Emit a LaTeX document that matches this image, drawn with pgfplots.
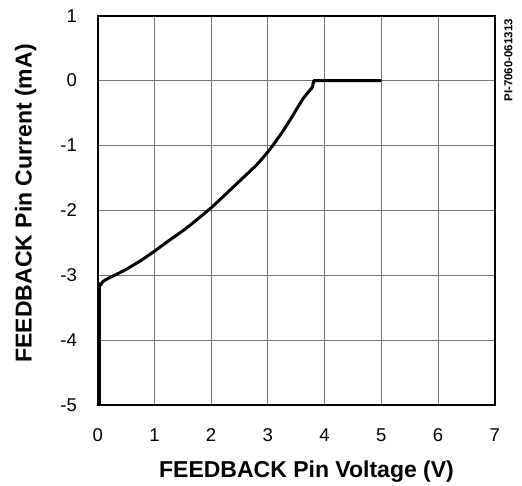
\documentclass[border=0pt]{standalone}
\usepackage{pgfplots}
\pgfplotsset{compat=1.18}
\usepackage{fontspec}
\setmainfont{Liberation Sans}
\begin{document}
\begin{tikzpicture}[x=1pt,y=1pt]
\useasboundingbox (-97.7,-80) rectangle (424.3,405);
\begin{axis}[
  at={(0,0)}, anchor=south west,
  scale only axis,
  width=397pt, height=389.3pt,
  xmin=0, xmax=7, ymin=-5, ymax=1,
  xtick={0,1,...,7}, ytick={-5,-4,...,1},
  major tick length=0pt,
  grid=major,
  grid style={draw=black!55, line width=0.9pt},
  axis line style={line width=2pt},
  tick label style={font=\fontsize{18.5}{21}\selectfont, inner sep=0pt},
  /pgf/number format/assume math mode=true,
  xticklabel style={anchor=base, yshift=-36.7pt},
  yticklabel style={anchor=east, xshift=-20.7pt},
  xlabel={\textbf{FEEDBACK Pin Voltage (V)}},
  ylabel={\textbf{FEEDBACK Pin Current (mA)}},
  label style={font=\fontsize{23}{26}\selectfont, inner sep=0pt},
  xlabel style={at={(axis description cs:0.526,-0.1857)}, anchor=base},
  ylabel style={at={(axis description cs:-0.1662,0.518)}, anchor=base},
  clip=false,
]
\addplot[black, line width=3pt, line join=round, smooth, tension=0.3] coordinates {
(0.03,-5) (0.03,-3.22) (0.05,-3.15) (0.09,-3.1) (0.18,-3.05) (0.3,-3.0)
(0.5,-2.91) (0.75,-2.78) (1,-2.63) (1.25,-2.47) (1.57,-2.27) (2,-1.96)
(2.5,-1.55) (2.8,-1.3) (3.0,-1.1) (3.12,-0.96) (3.25,-0.8) (3.39,-0.61)
(3.5,-0.45) (3.62,-0.28) (3.72,-0.17) (3.77,-0.12) (3.79,-0.09) (3.80,-0.03)
(3.83,0) (3.86,0.0) (5,0)
};
\end{axis}
\node[rotate=90, anchor=base west, inner sep=0pt, font=\fontsize{11.5}{13}\selectfont\bfseries] at (414.6,303.3) {PI-7060-061313};
\end{tikzpicture}
\end{document}
